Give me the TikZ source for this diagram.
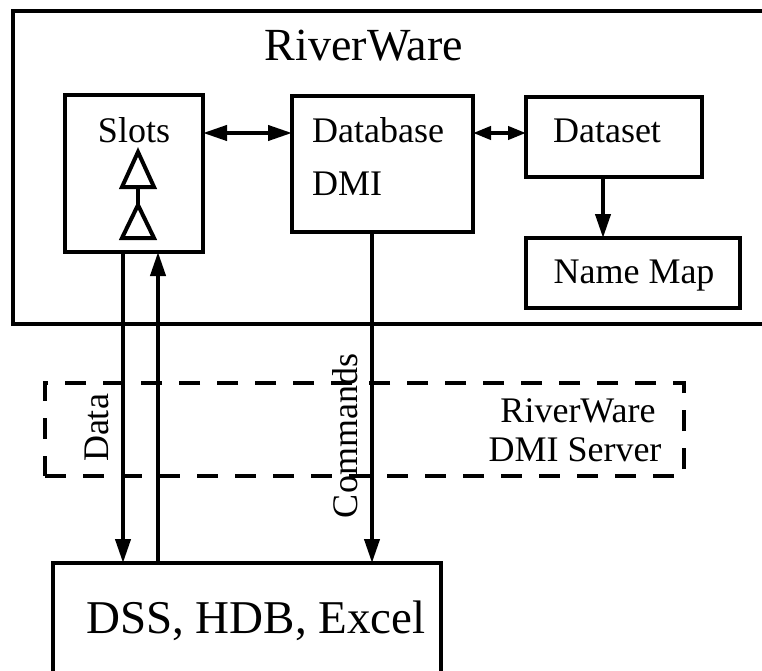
\documentclass[tikz,border=0pt]{standalone}
\usepackage{fontspec}
\setmainfont{Liberation Serif}
\usetikzlibrary{arrows.meta}
\begin{document}
\begin{tikzpicture}[x=1pt,y=-1pt,
  box/.style={draw,line width=4pt,inner sep=0pt,outer sep=0pt},
  lbl/.style={inner sep=0pt,font=\fontsize{36}{40}\selectfont},
  big/.style={inner sep=0pt,font=\fontsize{46}{50}\selectfont},
  arr/.style={line width=4pt,-{Triangle[length=24pt,width=15pt]}},
  darr/.style={line width=4pt,{Triangle[length=24pt,width=15pt]}-{Triangle[length=24pt,width=15pt]}},
  sarr/.style={line width=4pt,{Triangle[length=18pt,width=13pt]}-{Triangle[length=18pt,width=13pt]}},
  tri/.style={draw,line width=4pt,fill=white,line join=miter}
]
\useasboundingbox (0,0) rectangle (762,671);
\clip (0,0) rectangle (762,671);

% outer RiverWare container (open to the right)
\node[box,minimum width=787pt,minimum height=313pt] (riverware) at (406.5,167.5) {};
\node[big,anchor=base] (title) at (364,61) {RiverWare};

% inner boxes
\node[box,minimum width=138pt,minimum height=157pt] (slots) at (134,173.5) {};
\node[box,minimum width=181pt,minimum height=136pt] (db) at (382.5,164) {};
\node[box,minimum width=176pt,minimum height=80pt] (dataset) at (614,137) {};
\node[box,minimum width=214pt,minimum height=70pt] (namemap) at (633,273) {};

\node[lbl,anchor=base] (tslots) at (134,143) {Slots};
\node[lbl,anchor=base west] (tdb1) at (312,143) {Database};
\node[lbl,anchor=base west] (tdb2) at (312,195) {DMI};
\node[lbl,anchor=base] (tdataset) at (607,143) {Dataset};
\node[lbl,anchor=base] (tnamemap) at (634,283) {Name Map};

% triangles inside Slots
\draw[line width=4pt] (138,187) -- (138,205);
\draw[tri] (138,152) -- (154,187) -- (122,187) -- cycle;
\draw[tri] (138,205) -- (154,238) -- (122,238) -- cycle;

% dashed DMI server box
\node[box,dashed,dash pattern=on 21pt off 17pt,minimum width=639pt,minimum height=93pt] (server) at (364.5,429.5) {};
\node[lbl,anchor=base] (tserver1) at (578,422) {RiverWare};
\node[lbl,anchor=base] (tserver2) at (575,461) {DMI Server};

% bottom box
\node[box,minimum width=388pt,minimum height=160pt] (files) at (247,643) {};
\node[big,anchor=base,font=\fontsize{47}{50}\selectfont] (tfiles) at (256,633) {DSS, HDB, Excel};

% helper coordinates
\coordinate (row) at (0,133);
\coordinate (xd) at (123,0);
\coordinate (xu) at (158,0);
\coordinate (xc) at (372,0);
\coordinate (xn) at (603,0);

% connectors
\draw[darr] (slots.east |- row) -- (db.west |- row);
\draw[sarr] (db.east |- row) -- (dataset.west |- row);
\draw[arr] (dataset.south -| xn) -- (namemap.north -| xn);
\draw[arr] (slots.south -| xd) -- (files.north -| xd);
\draw[arr] (files.north -| xu) -- (slots.south -| xu);
\draw[arr] (db.south -| xc) -- (files.north -| xc);

\node[lbl,rotate=90,anchor=center] (tdata) at (97,428) {Data};
\node[lbl,rotate=90,anchor=center] (tcmd) at (345,436) {Commands};
\end{tikzpicture}
\end{document}
